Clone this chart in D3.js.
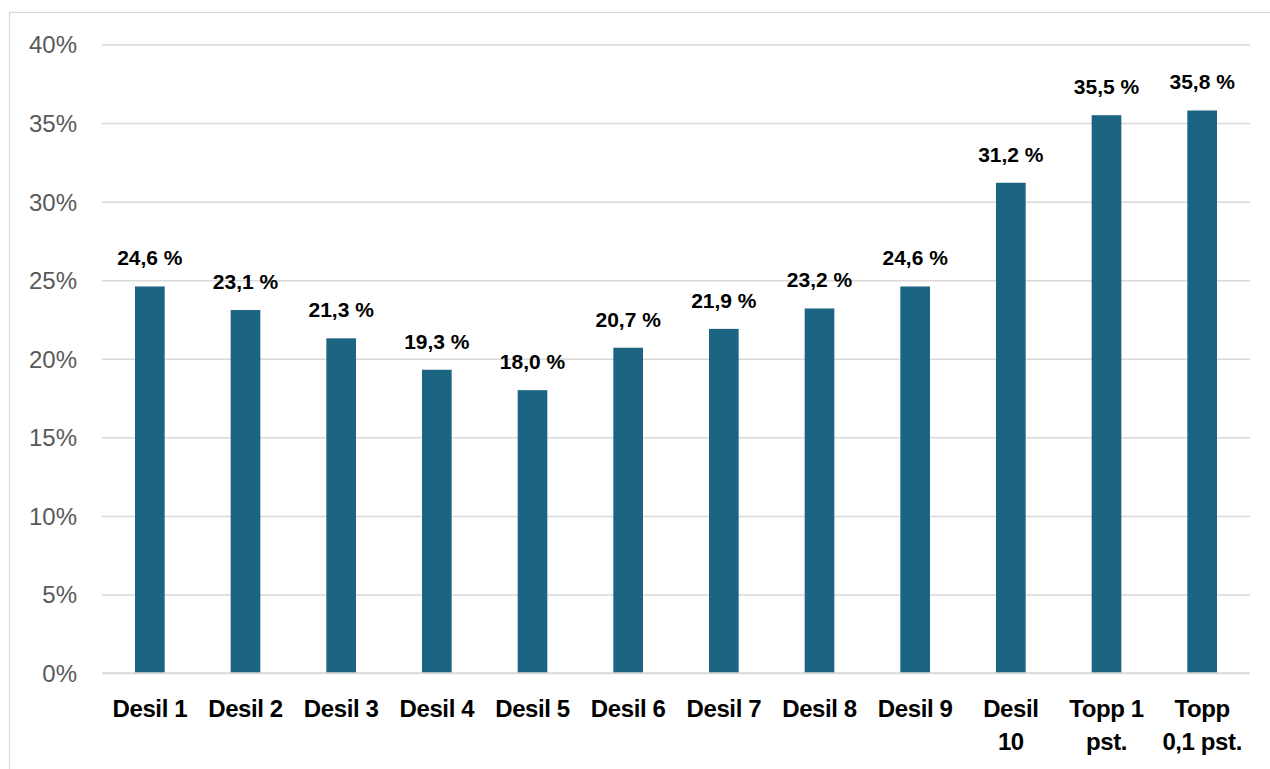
<!DOCTYPE html>
<html>
<head>
<meta charset="utf-8">
<script src="https://cdn.jsdelivr.net/npm/d3@7"></script>
<style>
  body { margin: 0; background: #fff; }
  svg { display: block; }
</style>
</head>
<body>
<div id="chart"></div>
<script>
// Data
const categories = ['Desil 1', 'Desil 2', 'Desil 3', 'Desil 4', 'Desil 5', 'Desil 6',
                    'Desil 7', 'Desil 8', 'Desil 9', 'Desil 10', 'Topp 1 pst.', 'Topp 0,1 pst.'];
// how each category label wraps
const categoryLines = [['Desil 1'], ['Desil 2'], ['Desil 3'], ['Desil 4'], ['Desil 5'], ['Desil 6'],
                       ['Desil 7'], ['Desil 8'], ['Desil 9'], ['Desil', '10'], ['Topp 1', 'pst.'], ['Topp', '0,1 pst.']];
const values = [24.6, 23.1, 21.3, 19.3, 18.0, 20.7, 21.9, 23.2, 24.6, 31.2, 35.5, 35.8];
const yTicks = [0, 5, 10, 15, 20, 25, 30, 35, 40];

const WIDTH = 1270;
const HEIGHT = 769;
const PLOT = {left: 102, right: 1250, top: 44.5, bottom: 673};
const BAR_COLOR = '#1b6482';
const GRID_COLOR = '#d9d9d9';

const svg = d3.select('#chart').append('svg')
  .attr('width', WIDTH)
  .attr('height', HEIGHT);

// chart area border
svg.append('rect')
  .attr('x', 9.5).attr('y', 12.5)
  .attr('width', WIDTH + 10).attr('height', HEIGHT + 10)
  .attr('fill', 'none')
  .attr('stroke', GRID_COLOR)
  .attr('stroke-width', 1.2);

const x = d3.scaleBand()
  .domain(categories)
  .range([PLOT.left, PLOT.right])
  .paddingInner(0.69)
  .paddingOuter(0.345);

const y = d3.scaleLinear()
  .domain([0, 40])
  .range([PLOT.bottom, PLOT.top]);

// gridlines + y labels
const yAxis = d3.axisLeft(y)
  .tickValues(yTicks)
  .tickSize(-(PLOT.right - PLOT.left))
  .tickPadding(25)
  .tickFormat(d => d + '%');

svg.append('g')
  .attr('class', 'y axis')
  .attr('transform', `translate(${PLOT.left}, 0)`)
  .call(yAxis)
  .call(g => g.select('.domain').remove())
  .call(g => g.selectAll('.tick line')
    .attr('stroke', GRID_COLOR)
    .attr('stroke-width', 1.5))
  .call(g => g.selectAll('.tick text')
    .attr('fill', '#595959')
    .attr('font-family', 'Liberation Sans, Arial, sans-serif')
    .attr('font-size', 24)
    .attr('dy', '0.35em'));

// bars
svg.append('g')
  .selectAll('rect')
  .data(values)
  .join('rect')
  .attr('x', (d, i) => x(categories[i]))
  .attr('y', d => y(d))
  .attr('width', x.bandwidth())
  .attr('height', d => y(0) - y(d))
  .attr('fill', BAR_COLOR);

// baseline
svg.append('line')
  .attr('x1', PLOT.left).attr('x2', PLOT.right)
  .attr('y1', y(0)).attr('y2', y(0))
  .attr('stroke', GRID_COLOR)
  .attr('stroke-width', 1.5);

// data labels
svg.append('g')
  .selectAll('text')
  .data(values)
  .join('text')
  .attr('x', (d, i) => x(categories[i]) + x.bandwidth() / 2)
  .attr('y', d => y(d) - 21)
  .attr('text-anchor', 'middle')
  .attr('font-family', 'Liberation Sans, Arial, sans-serif')
  .attr('font-weight', 'bold')
  .attr('font-size', 21)
  .attr('fill', '#000')
  .text(d => d.toFixed(1).replace('.', ',') + ' %');

// category labels
const cat = svg.append('g')
  .selectAll('text')
  .data(categories)
  .join('text')
  .attr('x', d => x(d) + x.bandwidth() / 2)
  .attr('y', 717)
  .attr('text-anchor', 'middle')
  .attr('font-family', 'Liberation Sans, Arial, sans-serif')
  .attr('font-weight', 'bold')
  .attr('font-size', 24)
  .attr('letter-spacing', -0.4)
  .attr('fill', '#000');

cat.selectAll('tspan')
  .data((d, i) => categoryLines[i])
  .join('tspan')
  .attr('x', function() { return d3.select(this.parentNode).attr('x'); })
  .attr('dy', (d, i) => i === 0 ? 0 : 33)
  .text(d => d);
</script>
</body>
</html>
